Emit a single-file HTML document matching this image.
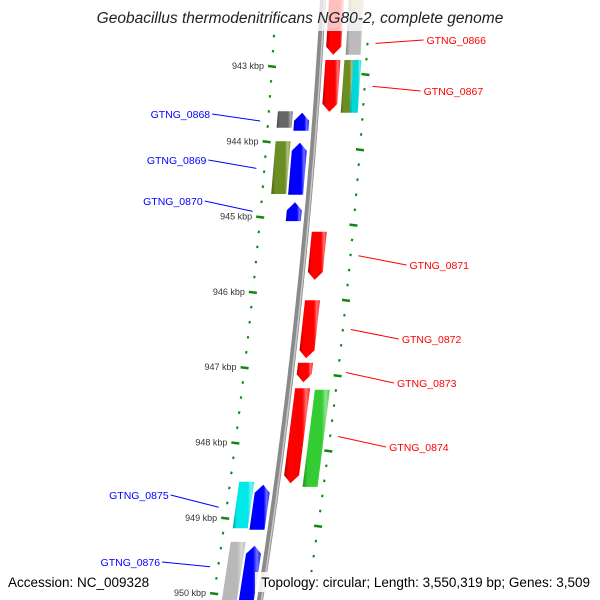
<!DOCTYPE html>
<html><head><meta charset="utf-8"><style>
html,body{margin:0;background:#fff;overflow:hidden;width:600px;height:600px}
svg{display:block;font-family:"Liberation Sans",sans-serif;overflow:hidden}
</style></head><body>
<svg id="map" width="600" height="600" viewBox="0 0 600 600" xmlns="http://www.w3.org/2000/svg">
<defs>
<clipPath id="frame"><rect x="0" y="0" width="600" height="600"/></clipPath>
</defs>
<g clip-path="url(#frame)">
<g id="ticks"></g>
<g id="backbone"></g>
<g id="genes"></g>
<g id="labels"></g>
</g>
<rect x="0" y="0" width="600" height="31" fill="#fff" opacity="0.75"/>
<text x="300" y="23" text-anchor="middle" font-size="15.5" font-style="italic" fill="#222">Geobacillus thermodenitrificans NG80-2, complete genome</text>
<rect x="4" y="572" width="150" height="20" fill="#fff" opacity="0.85"/>
<rect x="255" y="572" width="342" height="20" fill="#fff" opacity="0.85"/>
<text x="8" y="587" font-size="13.5" fill="#000">Accession: NC_009328</text>
<text x="590" y="587" text-anchor="end" font-size="13.5" fill="#000">Topology: circular; Length: 3,550,319 bp; Genes: 3,509</text>
</svg>
<script>
// data (kbp positions)
const geneNames=["GTNG_0866","GTNG_0866b","GTNG_0866c","GTNG_0867","GTNG_0867b","GTNG_0867c","GTNG_0868","GTNG_0868b","GTNG_0869","GTNG_0869b","GTNG_0870","GTNG_0871","GTNG_0872","GTNG_0873","GTNG_0874","GTNG_0874b","GTNG_0875","GTNG_0875b","GTNG_0876","GTNG_0876b"];
const geneStart=[941.7,941.7,941.7,942.92,942.92,942.92,943.62,943.60,944.02,944.0,944.81,945.20,946.11,946.94,947.28,947.30,948.56,948.52,949.37,949.32];
const geneEnd=[942.85,942.85,942.26,943.61,943.62,943.62,943.86,943.82,944.71,944.70,945.06,945.84,946.88,947.20,948.54,948.59,949.16,949.14,950.5,950.5];
const geneTrack=["fi","fo","fo2","fi","fo","fo3","ri","ro","ri","ro","ri","fi","fi","fi","fi","fo","ri","ro","ri","ro"];
const geneColor=["#ff0000","#bbbbbb","#c8bf80","#ff0000","#6b8e23","#00d8d8","#0000ff","#666666","#0000ff","#6b8e23","#0000ff","#ff0000","#ff0000","#ff0000","#ff0000","#33cc33","#0000ff","#00e8e8","#0000ff","#b8b8b8"];
const geneArrow=[1,0,0,1,0,0,1,0,1,0,1,1,1,1,1,0,1,0,1,0];
const labelNames=["GTNG_0866","GTNG_0867","GTNG_0868","GTNG_0869","GTNG_0870","GTNG_0871","GTNG_0872","GTNG_0873","GTNG_0874","GTNG_0875","GTNG_0876"];
const labelSide=["r","r","l","l","l","r","r","r","r","l","l"];
const labelKbp=[942.7,943.27,943.73,944.36,944.93,945.52,946.50,947.07,947.92,948.86,949.65];
const labelY=[40,91,114,160,201,265,339,383,447,495,562];
const tickMajor=[943,944,945,946,947,948,949,950];

const NS="http://www.w3.org/2000/svg";
const svg=document.getElementById('map');
function yOf(k){return 66+(k-943)*75.3;}
function bb(y){return 323-0.055*y-0.0000833*y*y;}
function mk(tag,attrs,parent){const e=document.createElementNS(NS,tag);for(const a in attrs)e.setAttribute(a,attrs[a]);parent.appendChild(e);return e;}
const gT=document.getElementById('ticks'),gB=document.getElementById('backbone'),gG=document.getElementById('genes'),gL=document.getElementById('labels');

// backbone
let pts=[];for(let y=-5;y<=605;y+=5)pts.push(bb(y).toFixed(1)+','+y);
const bl=mk('polyline',{points:pts.join(' '),fill:'none',stroke:'#8a8a8a','stroke-width':6},gB);


const bl2=mk('polyline',{points:pts.map(p=>{const [x,y]=p.split(',');return (+x+1.5)+','+y}).join(' '),fill:'none',stroke:'#c8c8c8','stroke-width':1.5},gB);



// ticks
for(let i=0;i<=45;i++){
  const k=941.6+i*0.2; const major=Math.abs(k-Math.round(k))<0.01;
  const y=yOf(k);
  if(y<30||y>600)continue;
  const xl=bb(y)-47;
  const t=mk('line',{x1:xl-(major?4:1),y1:y,x2:xl+(major?4:1),y2:y+(major?1:0.5),stroke:'#118811','stroke-width':2.5},gT);
  
  
  const y2=y+8, xr=bb(y2)+47;
  if(y2<600){
    const t2=mk('line',{x1:xr-(major?4:1),y1:y2,x2:xr+(major?4:1),y2:y2+(major?1:0.5),stroke:'#118811','stroke-width':2.5},gT);
    
    
  }
}
tickMajor.forEach(k=>{
  const y=yOf(k);const xl=bb(y)-47;
  const tx=mk('text',{x:xl-8,y:y+3,'text-anchor':'end','font-size':9,fill:'#333'},gT);
  tx.textContent=k+' kbp';
  
  
});

// genes
const offs={fi:[6,21],fo:[26,41],fo2:[26,41],fo3:[34,42],ri:[-21,-6],ro:[-38,-23]};
function shade(c,f){const n=parseInt(c.slice(1),16);let r=n>>16,g=(n>>8)&255,b=n&255;
  const m=v=>Math.max(0,Math.min(255,Math.round(f>0?v+(255-v)*f:v*(1+f))));return 'rgb('+m(r)+','+m(g)+','+m(b)+')';}
geneNames.forEach((nm,i)=>{
  const tr=geneTrack[i];let [o1,o2]=offs[tr];
  if(tr==='fo'&&geneColor[i]==='#6b8e23'){o1=25;o2=34;}
  const y1=yOf(geneStart[i]),y2=yOf(geneEnd[i]);
  const fwd=tr[0]==='f';const ah=geneArrow[i]?8:0;
  const oc=(o1+o2)/2;
  let p;
  if(fwd){
    p=[[bb(y1)+o1,y1],[bb(y1)+o2,y1],[bb(y2-ah)+o2,y2-ah],[bb(y2)+oc,y2],[bb(y2-ah)+o1,y2-ah]];
  }else{
    p=[[bb(y1+ah)+o1,y1+ah],[bb(y1)+oc,y1],[bb(y1+ah)+o2,y1+ah],[bb(y2)+o2,y2],[bb(y2)+o1,y2]];
  }
  const gid='g'+i;
  const lg=mk('linearGradient',{id:gid,x1:0,x2:1,y1:0,y2:0},svg.querySelector('defs'));
  mk('stop',{offset:0,'stop-color':shade(geneColor[i],-0.3)},lg);
  mk('stop',{offset:0.2,'stop-color':geneColor[i]},lg);
  mk('stop',{offset:0.7,'stop-color':geneColor[i]},lg);
  mk('stop',{offset:0.85,'stop-color':shade(geneColor[i],0.45)},lg);
  mk('stop',{offset:1,'stop-color':shade(geneColor[i],0.1)},lg);
  const poly=mk('polygon',{points:p.map(q=>q[0].toFixed(1)+','+q[1].toFixed(1)).join(' '),fill:'url(#'+gid+')'},gG);
  
  
});

// labels
labelNames.forEach((nm,i)=>{
  const gy=yOf(labelKbp[i]);const ly=labelY[i];
  const right=labelSide[i]==='r';
  const gx=right?bb(gy)+55:bb(gy)-55;
  const ex=right?gx+48:gx-48;
  const col=right?'#ff0000':'#0000ff';
  const ln=mk('line',{x1:gx,y1:gy,x2:ex,y2:ly,stroke:col,'stroke-width':1},gL);
  
  
  const t=mk('text',{x:right?ex+3:ex-2,y:ly+4,'text-anchor':right?'start':'end','font-size':10.5,fill:col},gL);
  t.textContent=nm;
  
  
});
</script>
</body></html>
